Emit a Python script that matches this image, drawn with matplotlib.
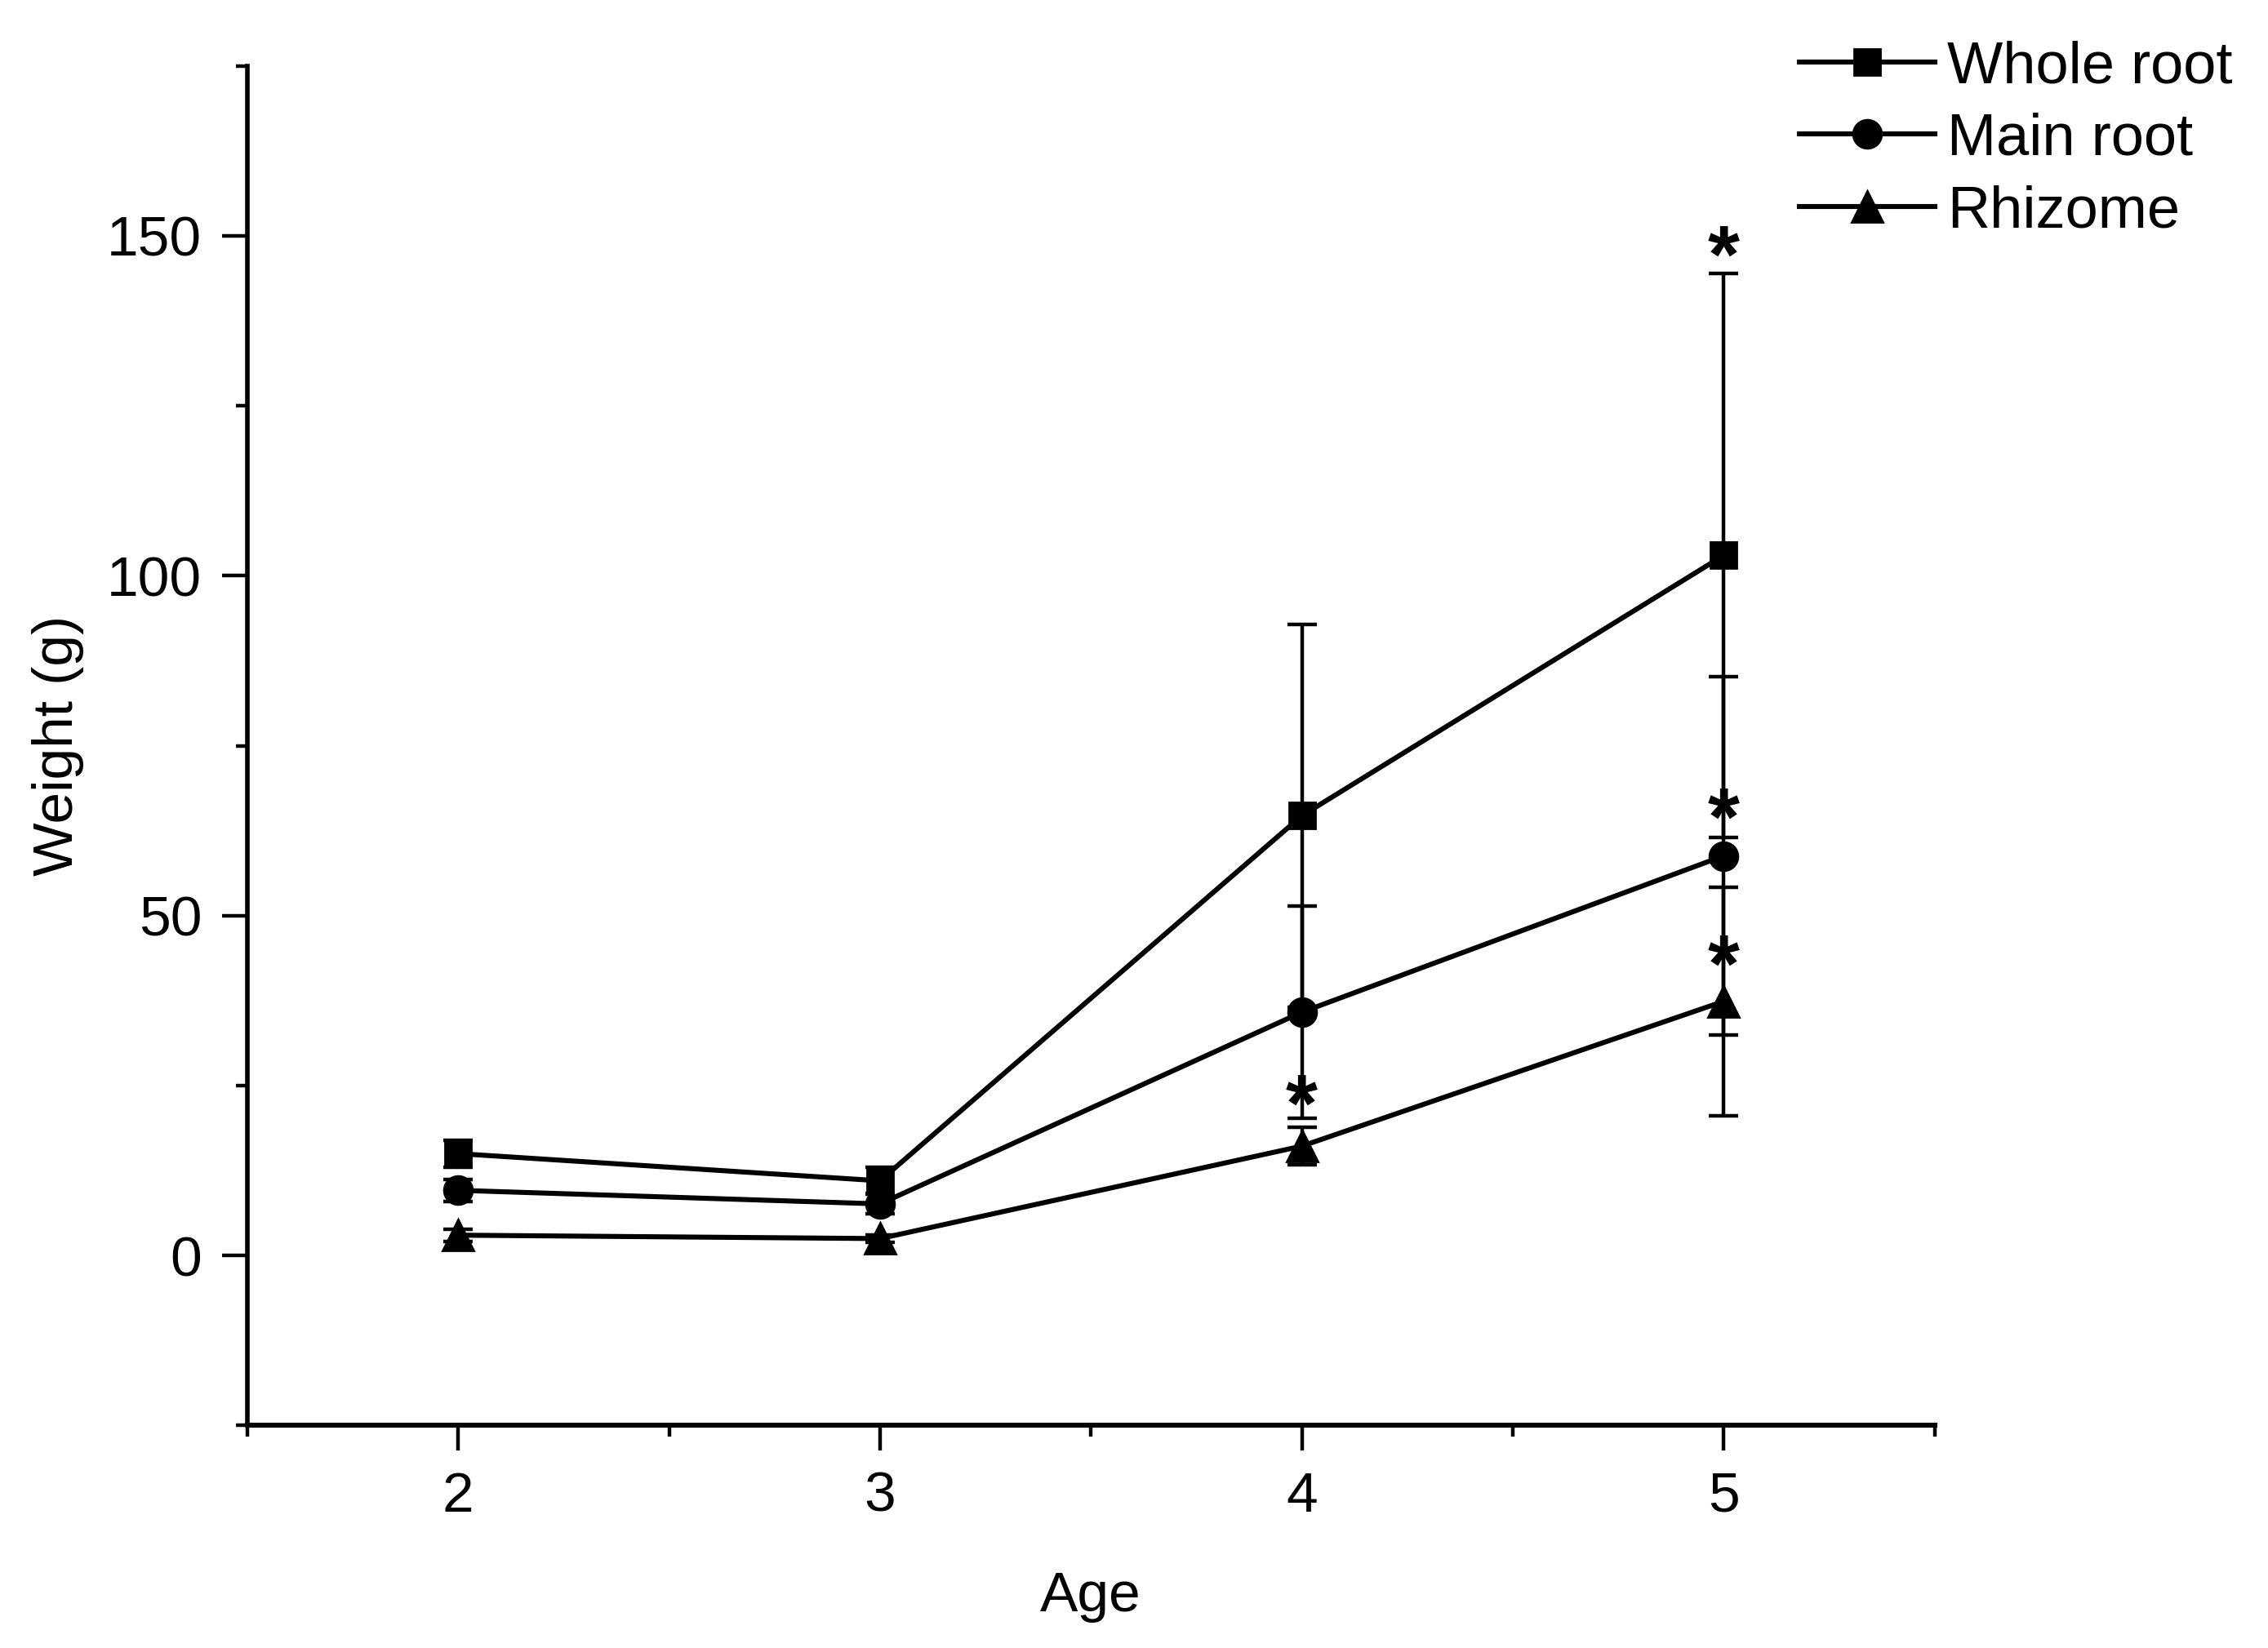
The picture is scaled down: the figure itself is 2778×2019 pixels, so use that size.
import matplotlib
matplotlib.use('Agg')
import matplotlib.pyplot as plt
from matplotlib.ticker import MultipleLocator
from matplotlib.lines import Line2D

plt.rcParams['font.family'] = ['Liberation Sans', 'DejaVu Sans']

# Data
age = [2, 3, 4, 5]
whole_root = [15.0, 11.0, 64.7, 103.0]
whole_root_err = [2.0, 2.0, 28.2, 41.5]
main_root = [9.6, 7.6, 35.8, 58.8]
main_root_err = [1.6, 1.5, 15.6, 26.4]
rhizome = [3.0, 2.5, 16.1, 37.4]
rhizome_err = [0.9, 0.5, 2.8, 16.8]

# significance stars (x, y)
star_x = [4, 5, 5, 5]
star_y = [21.4, 146.3, 63.6, 42.0]

fig = plt.figure(figsize=(13.89, 10.095), dpi=200)
ax = fig.add_axes([0.109, 0.135, 0.744, 0.825])

series = [
    (whole_root, whole_root_err, 's', 11.5, 'Whole root'),
    (main_root, main_root_err, 'o', 12.5, 'Main root'),
    (rhizome, rhizome_err, '^', 13.5, 'Rhizome'),
]
handles = []
for vals, errs, mk, ms, lab in series:
    ax.errorbar(age, vals, yerr=errs, color='black', marker=mk, markersize=ms,
                linewidth=2.2, elinewidth=1.6, capsize=6.5, capthick=1.6)
    handles.append(Line2D([], [], color='black', marker=mk, markersize=ms,
                          linewidth=2.2, label=lab))

for sx, sy in zip(star_x, star_y):
    ax.text(sx, sy, '*', fontsize=36, fontweight='bold', ha='center', va='center',
            color='black')

ax.set_xlim(1.5, 5.5)
ax.set_ylim(-25, 175)
ax.xaxis.set_major_locator(MultipleLocator(1))
ax.xaxis.set_minor_locator(MultipleLocator(0.5))
ax.yaxis.set_major_locator(MultipleLocator(50))
ax.yaxis.set_minor_locator(MultipleLocator(25))

ax.spines['top'].set_visible(False)
ax.spines['right'].set_visible(False)
ax.spines['left'].set_linewidth(2.0)
ax.spines['bottom'].set_linewidth(2.2)

ax.tick_params(which='major', direction='out', length=11, width=1.6, labelsize=25, pad=9)
ax.tick_params(which='minor', direction='out', length=5, width=1.6)

ax.set_xlabel('Age', fontsize=25, labelpad=21)
ax.set_ylabel('Weight (g)', fontsize=25, labelpad=10)

ax.legend(handles=handles, loc='upper left', bbox_to_anchor=(0.7935, 0.9757),
          bbox_transform=fig.transFigure, frameon=False, fontsize=26,
          handlelength=2.3, handletextpad=0.2, labelspacing=0.3,
          borderpad=0, borderaxespad=0)

fig.savefig('out.png', dpi=200)
